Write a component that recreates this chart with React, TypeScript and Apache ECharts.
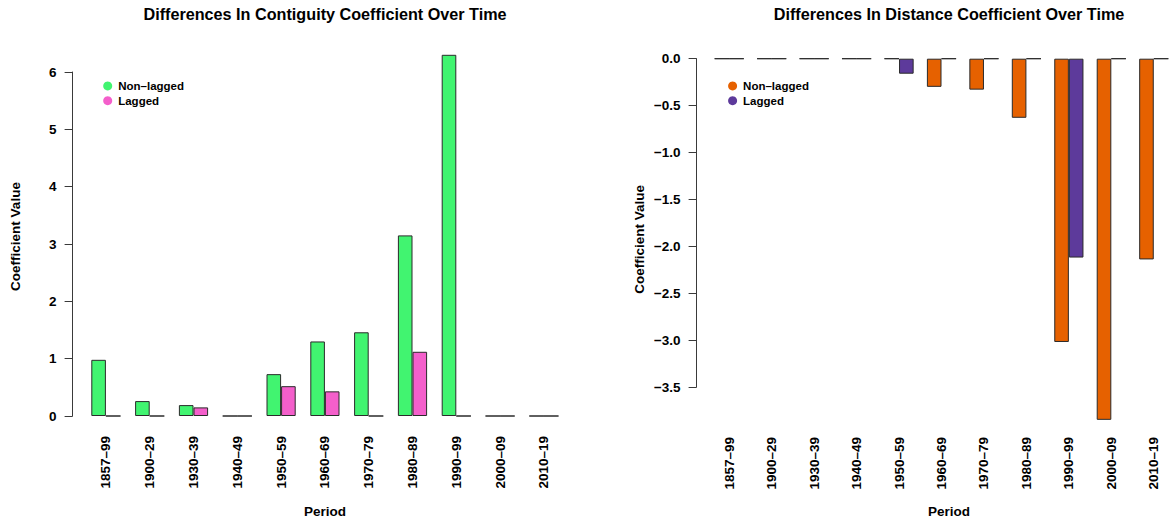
import React, { useEffect, useRef } from "react";
import * as echarts from "echarts";

// Periods shared by both panels
const periods = [
  "1857–99", "1900–29", "1930–39", "1940–49", "1950–59", "1960–69",
  "1970–79", "1980–89", "1990–99", "2000–09", "2010–19",
];

// Contiguity coefficient differences
const contiguityNonLagged = [0.98, 0.26, 0.19, 0, 0.73, 1.3, 1.46, 3.15, 6.3, 0, 0];
const contiguityLagged = [0, 0, 0.15, 0, 0.52, 0.43, 0, 1.12, 0, 0, 0];

// Distance coefficient differences
const distanceNonLagged = [0, 0, 0, 0, 0, -0.3, -0.33, -0.63, -3.02, -3.85, -2.14];
const distanceLagged = [0, 0, 0, 0, -0.16, 0, 0, 0, -2.12, 0, 0];

const seriesNames = ["Non–lagged", "Lagged"];
const contiguityColors = ["#41F470", "#F45FCB"];
const distanceColors = ["#E66100", "#5D3A9B"];

const FONT = "'Liberation Sans', Arial, Helvetica, sans-serif";
const BASE = 13.5;
const BAR_W = 14.6;
const AXIS_COLOR = "#3a3a3a";
const BORDER = "#2a2a2a";

function fmtMinus(v: number, digits: number) {
  const s = digits > 0 ? v.toFixed(digits) : String(v);
  return s.replace("-", "\u2212");
}

function buildOption() {
  const panels = [
    {
      gridLeft: 84, gridTop: 72, gridHeight: 344, labelMargin: 20,
      min: 0, max: 6, interval: 1, digits: 0,
      colors: contiguityColors, data: [contiguityNonLagged, contiguityLagged],
      title: "Differences In Contiguity Coefficient Over Time",
      centerX: 325, yTitleX: 15.5, yTitleY: 236.5, legendLeft: 103.2,
    },
    {
      gridLeft: 708, gridTop: 58.7, gridHeight: 328.3, labelMargin: 50,
      min: -3.5, max: 0, interval: 0.5, digits: 1,
      colors: distanceColors, data: [distanceNonLagged, distanceLagged],
      title: "Differences In Distance Coefficient Over Time",
      centerX: 949, yTitleX: 639.3, yTitleY: 239.3, legendLeft: 728.1,
    },
  ];

  const textStyle = { fontFamily: FONT, fontWeight: "bold" as const, color: "#000" };

  return {
    animation: false,
    backgroundColor: "#fff",
    grid: panels.map((p) => ({
      left: p.gridLeft, top: p.gridTop, width: BAR_W * 33, height: p.gridHeight,
    })),
    xAxis: panels.map((p, i) => ({
      type: "category",
      gridIndex: i,
      data: periods,
      boundaryGap: true,
      axisLine: { show: false },
      axisTick: { show: false },
      splitLine: { show: false },
      axisLabel: {
        rotate: 90, interval: 0, margin: p.labelMargin,
        fontSize: BASE, ...textStyle,
      },
    })),
    yAxis: panels.map((p, i) => ({
      type: "value",
      gridIndex: i,
      min: p.min, max: p.max, interval: p.interval,
      offset: 11.4,
      axisLine: { show: true, lineStyle: { color: AXIS_COLOR, width: 1 } },
      axisTick: { show: true, length: 8, lineStyle: { color: AXIS_COLOR } },
      splitLine: { show: false },
      axisLabel: {
        margin: 16, fontSize: BASE, ...textStyle,
        formatter: (v: number) => fmtMinus(v, p.digits),
      },
    })),
    legend: panels.map((p) => ({
      orient: "vertical",
      left: p.legendLeft,
      top: 78.6,
      padding: 0,
      itemGap: 0,
      itemWidth: 9,
      itemHeight: 9,
      icon: "circle",
      selectedMode: false,
      itemStyle: { borderWidth: 0 },
      textStyle: { ...textStyle, fontSize: 11.5, lineHeight: 14.7, padding: [0, 0, 0, 1] },
      data: seriesNames.map((n, k) => ({ name: n, itemStyle: { color: p.colors[k], borderWidth: 0 } })),
    })),
    series: panels.flatMap((p, i) =>
      seriesNames.map((n, k) => ({
        type: "bar",
        name: n,
        xAxisIndex: i,
        yAxisIndex: i,
        data: p.data[k],
        barWidth: BAR_W,
        barGap: "0%",
        clip: false,
        silent: true,
        itemStyle: { color: p.colors[k], borderColor: BORDER, borderWidth: 1 },
        emphasis: { disabled: true },
      }))
    ),
    graphic: panels.flatMap((p) => [
      {
        type: "text", x: p.centerX, y: 13.5,
        style: { text: p.title, font: `bold 16.2px ${FONT}`, fill: "#000", textAlign: "center", textVerticalAlign: "middle" },
      },
      {
        type: "text", x: p.centerX, y: 511.5,
        style: { text: "Period", font: `bold ${BASE}px ${FONT}`, fill: "#000", textAlign: "center", textVerticalAlign: "middle" },
      },
      {
        type: "text", x: p.yTitleX, y: p.yTitleY, rotation: Math.PI / 2,
        style: { text: "Coefficient Value", font: `bold ${BASE}px ${FONT}`, fill: "#000", textAlign: "center", textVerticalAlign: "middle" },
      },
    ]),
  };
}

export default function App() {
  const ref = useRef<HTMLDivElement>(null);
  useEffect(() => {
    const chart = echarts.init(ref.current!, null, { renderer: "svg" });
    chart.setOption(buildOption() as any);
    return () => chart.dispose();
  }, []);
  return (
    <div
      ref={ref}
      style={{ position: "fixed", left: 0, top: 0, width: 1175, height: 521, background: "#fff" }}
    />
  );
}
